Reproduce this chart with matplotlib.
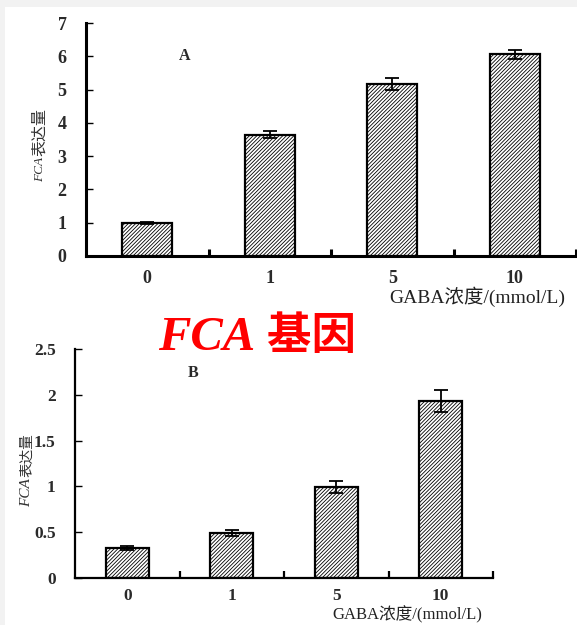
import matplotlib
matplotlib.use('Agg')
import matplotlib.pyplot as plt
from matplotlib.patches import Rectangle

# FCA expression under different GABA concentrations
conc = ['0', '1', '5', '10']
fca_a = [1.0, 3.65, 5.16, 6.06]
err_a = [0.03, 0.10, 0.18, 0.13]
fca_b = [0.33, 0.49, 0.99, 1.93]
err_b = [0.02, 0.03, 0.065, 0.12]

plt.rcParams['hatch.linewidth'] = 0.6
plt.rcParams['hatch.color'] = '#444444'
serif = 'Liberation Serif'
cjk = 'Noto Sans CJK SC'

fig = plt.figure(figsize=(5.77, 6.25), dpi=100, facecolor='#f2f2f2')
fig.patches.append(Rectangle((5 / 577, 0), 1, 1 - 7 / 625, transform=fig.transFigure,
                             facecolor='white', edgecolor='none', zorder=-5))


def panel(ax, vals, errs, ylim, yticks, ylabels, lw, fs, letter, letter_xy, xpad):
    x = range(len(conc))
    ax.bar(x, vals, width=0.41, color='white', edgecolor='black', linewidth=1.6,
           hatch='/////////', zorder=2)
    ax.errorbar(x, vals, yerr=errs, fmt='none', ecolor='black', elinewidth=1.3,
                capsize=5, capthick=1.3, zorder=3)
    ax.set_xlim(-0.5, 3.5)
    ax.set_ylim(*ylim)
    ax.set_facecolor('none')
    for s in ['top', 'right']:
        ax.spines[s].set_visible(False)
    for s in ['left', 'bottom']:
        ax.spines[s].set_linewidth(lw)
    ax.set_xticks(list(x))
    ax.set_xticklabels(conc)
    ax.set_xticks([0.5, 1.5, 2.5, 3.5], minor=True)
    ax.tick_params(axis='x', which='major', length=0, pad=xpad)
    ax.tick_params(axis='x', which='minor', direction='in', length=5, width=lw)
    ax.set_yticks(yticks)
    ax.set_yticklabels(ylabels)
    ax.tick_params(axis='y', direction='in', length=5, width=1, pad=14)
    for lab in ax.get_xticklabels() + ax.get_yticklabels():
        lab.set_fontfamily(serif)
        lab.set_fontweight('bold')
        lab.set_fontsize(fs)
        lab.set_color('#2a2a2a')
    ax.text(letter_xy[0], letter_xy[1], letter, transform=ax.transAxes, ha='center', va='center',
            fontfamily=serif, fontweight='bold', fontsize=11.5, color='#2a2a2a')


ax1 = fig.add_axes([86 / 577, 1 - 256 / 625, 490 / 577, 233 / 625])
panel(ax1, fca_a, err_a, (0, 7), range(8), [str(v) for v in range(8)], 2.2, 13,
      'A', ((185 - 86) / 490, (256 - 56) / 233), 10)

ax2 = fig.add_axes([75 / 577, 1 - 578 / 625, 418 / 577, 229 / 625])
bt = [0, 0.5, 1, 1.5, 2, 2.5]
panel(ax2, fca_b, err_b, (0, 2.5), bt, ['0', '0.5', '1', '1.5', '2', '2.5'], 1.6, 12.5,
      'B', ((193 - 75) / 418, (578 - 373) / 229), 7)

# x-axis titles
fig.text(565 / 577, 1 - 297 / 625, 'GABA浓度/(mmol/L)', ha='right', va='center',
         fontfamily=[serif, cjk], fontsize=14, color='#222222')
fig.text(482 / 577, 1 - 615 / 625, 'GABA浓度/(mmol/L)', ha='right', va='center',
         fontfamily=[serif, cjk], fontsize=12, color='#222222')

# y-axis titles (italic gene name + Chinese)
fig.text(40 / 577, 1 - 182 / 625, 'FCA', rotation=90, ha='center', va='bottom',
         fontfamily=serif, fontstyle='italic', fontsize=9.5, color='#333333')
fig.text(40 / 577, 1 - 156 / 625, '表达量', rotation=90, ha='center', va='bottom',
         fontfamily=cjk, fontsize=11.5, color='#333333')
fig.text(27 / 577, 1 - 507 / 625, 'FCA', rotation=90, ha='center', va='bottom',
         fontfamily=serif, fontstyle='italic', fontsize=11, color='#333333')
fig.text(27 / 577, 1 - 477 / 625, '表达量', rotation=90, ha='center', va='bottom',
         fontfamily=cjk, fontsize=10.5, color='#333333')

# red title
fig.text(255 / 577, 1 - 350 / 625, 'FCA', ha='right', va='baseline', color='#ff0000',
         fontfamily=serif, fontstyle='italic', fontweight='bold', fontsize=35)
fig.text(267 / 577, 1 - 349 / 625, '基因', ha='left', va='baseline', color='#ff0000',
         fontfamily=cjk, fontweight='bold', fontsize=32)

fig.savefig('out.png', dpi=100, facecolor=fig.get_facecolor())
